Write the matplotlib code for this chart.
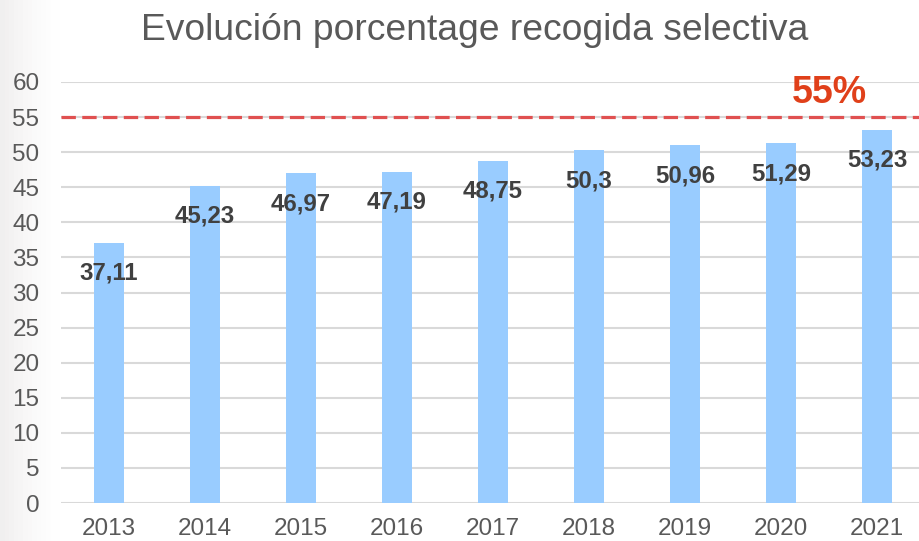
import matplotlib
matplotlib.use("Agg")
import matplotlib.pyplot as plt
import numpy as np

years = ["2013", "2014", "2015", "2016", "2017", "2018", "2019", "2020", "2021"]
values = [37.11, 45.23, 46.97, 47.19, 48.75, 50.3, 50.96, 51.29, 53.23]
value_labels = ["37,11", "45,23", "46,97", "47,19", "48,75", "50,3", "50,96", "51,29", "53,23"]
target = 55
target_label = "55%"
title = "Evolución porcentage recogida selectiva"
yticks = list(range(0, 61, 5))

plt.rcParams['font.family'] = ['Liberation Sans', 'DejaVu Sans']

W, H = 920, 541
fig = plt.figure(figsize=(W / 100, H / 100), dpi=100)
fig.patch.set_facecolor("white")

# subtle slide background gradient on the left edge
bg = fig.add_axes([0, 0, 1, 1], zorder=-10)
grad = np.linspace(0, 1, 200)
alpha = np.clip(1 - grad / 0.065, 0, 1) ** 1.5
img = np.ones((1, 200, 4))
img[..., 0] = 0.93
img[..., 1] = 0.925
img[..., 2] = 0.925
img[..., 3] = alpha * 0.8
bg.imshow(img, aspect="auto", extent=[0, 1, 0, 1])
bg.set_axis_off()

x0, x1 = 61, 920
y0, y1 = 503, 82  # pixel rows of 0 and 60
ax = fig.add_axes([x0 / W, 1 - y0 / H, (x1 - x0) / W, (y0 - y1) / H])
ax.set_facecolor("none")

xs = np.arange(len(years))
ax.bar(xs, values, width=0.3125, color="#99CCFF", zorder=2)
ax.set_xlim(-0.5, -0.5 + (x1 - x0) / 96)
ax.set_ylim(0, 60)
ax.set_yticks(yticks)
ax.set_xticks(xs)
ax.set_xticklabels(years)
ax.yaxis.grid(True, color="#D9D9D9", linewidth=1.5, zorder=0)
ax.set_axisbelow(True)
for s in ax.spines.values():
    s.set_visible(False)
ax.tick_params(axis="both", length=0, labelsize=17.5, colors="#595959")
ax.tick_params(axis="y", pad=15.5)
ax.tick_params(axis="x", pad=10.5)
for lab in ax.get_yticklabels():
    lab.set_horizontalalignment("right")

for xi, v, lab in zip(xs, values, value_labels):
    ax.annotate(lab, (xi, v), xytext=(0, -22), textcoords="offset points",
                ha="center", va="center", fontsize=17.3, fontweight="bold",
                color="#404040", zorder=3)

ax.axhline(target, color="#E05050", linewidth=2.3, dashes=(4.5, 2), zorder=4)
ax.annotate(target_label, (7.5, target), xytext=(0, 17), textcoords="offset points",
            ha="center", va="center", fontsize=27, fontweight="bold", color="#E0401A")

fig.text(475 / W, 1 - 30 / H, title, ha="center", va="center", fontsize=26.8, color="#595959")

fig.savefig("out.png", dpi=100, facecolor="white")
